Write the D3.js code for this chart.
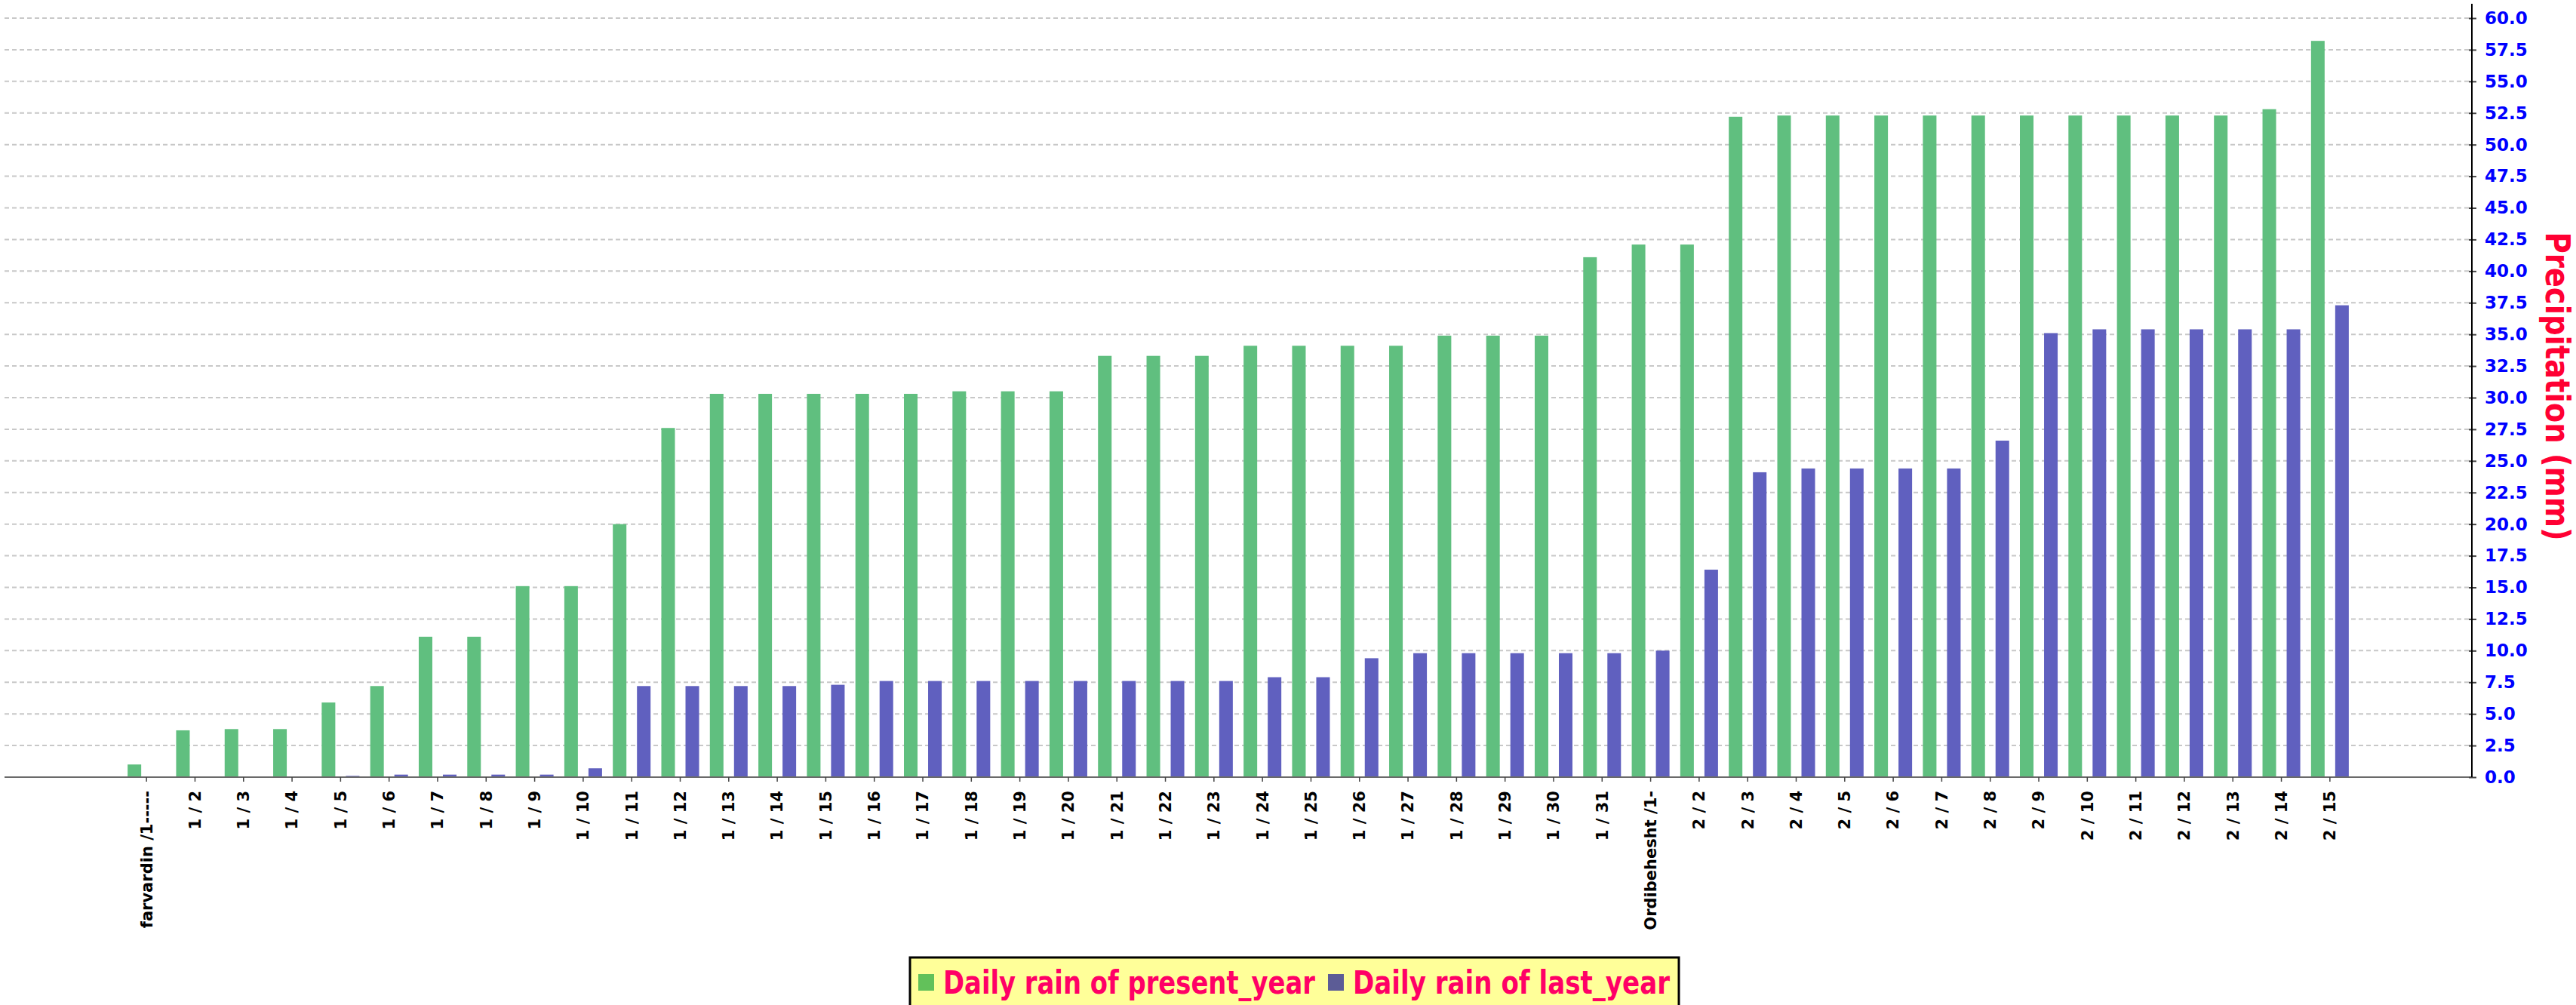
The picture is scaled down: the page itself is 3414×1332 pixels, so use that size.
<!DOCTYPE html>
<html>
<head>
<meta charset="utf-8">
<script src="https://cdn.jsdelivr.net/npm/d3@7"></script>
<style>
  html, body { margin: 0; padding: 0; background: #fff; }
  #chart { width: 3414px; height: 1332px; overflow: hidden; }
</style>
</head>
<body>
<div id="chart"></div>
<script>
// Chart data
const categories = [
    "farvardin /1-----", "1 / 2", "1 / 3", "1 / 4", "1 / 5", "1 / 6", "1 / 7", "1 / 8", "1 / 9", "1 / 10",
    "1 / 11", "1 / 12", "1 / 13", "1 / 14", "1 / 15", "1 / 16", "1 / 17", "1 / 18", "1 / 19", "1 / 20",
    "1 / 21", "1 / 22", "1 / 23", "1 / 24", "1 / 25", "1 / 26", "1 / 27", "1 / 28", "1 / 29", "1 / 30",
    "1 / 31", "Ordibehesht /1-", "2 / 2", "2 / 3", "2 / 4", "2 / 5", "2 / 6", "2 / 7", "2 / 8", "2 / 9",
    "2 / 10", "2 / 11", "2 / 12", "2 / 13", "2 / 14", "2 / 15"
];
const presentYear = [
    1.0, 3.7, 3.8, 3.8, 5.9, 7.2, 11.1, 11.1, 15.1, 15.1,
    20.0, 27.6, 30.3, 30.3, 30.3, 30.3, 30.3, 30.5, 30.5, 30.5,
    33.3, 33.3, 33.3, 34.1, 34.1, 34.1, 34.1, 34.9, 34.9, 34.9,
    41.1, 42.1, 42.1, 52.2, 52.3, 52.3, 52.3, 52.3, 52.3, 52.3,
    52.3, 52.3, 52.3, 52.3, 52.8, 58.2
];
const lastYear = [
    0.05, 0.05, 0.05, 0.05, 0.1, 0.2, 0.2, 0.2, 0.2, 0.7,
    7.2, 7.2, 7.2, 7.2, 7.3, 7.6, 7.6, 7.6, 7.6, 7.6,
    7.6, 7.6, 7.6, 7.9, 7.9, 9.4, 9.8, 9.8, 9.8, 9.8,
    9.8, 10.0, 16.4, 24.1, 24.4, 24.4, 24.4, 24.4, 26.6, 35.1,
    35.4, 35.4, 35.4, 35.4, 35.4, 37.3
];
const seriesNames = ["Daily rain of present_year", "Daily rain of last_year"];
const yTicks = d3.range(0, 60.01, 2.5);

const barColors = ["#60bf7f", "#6060bf"];
const legendColors = ["#62c15a", "#5c5c96"];

// Layout
const W = 3414, H = 1332;
const plot = { left: 6, right: 3276, top: 5, bottom: 1030 };

const svg = d3.select("#chart").append("svg")
    .attr("width", W)
    .attr("height", H)
    .style("font-family", "'DejaVu Sans', sans-serif");

const x = d3.scaleBand()
    .domain(categories)
    .range([162, 3120])
    .paddingInner(0)
    .paddingOuter(0);

const x1 = d3.scaleBand()
    .domain([0, 1])
    .range([0, x.bandwidth()])
    .paddingInner(0.4375)
    .paddingOuter(0.223);

const y = d3.scaleLinear().domain([0, 60]).range([plot.bottom, 24]);

// Grid lines (dashed)
svg.append("g")
    .selectAll("line")
    .data(yTicks)
    .enter().append("line")
    .attr("x1", plot.left)
    .attr("x2", plot.right)
    .attr("y1", d => y(d))
    .attr("y2", d => y(d))
    .attr("stroke", "#c8c8c8")
    .attr("stroke-width", 2)
    .attr("stroke-dasharray", "6,4");

// Bars
const rows = categories.map((c, i) => ({ cat: c, values: [presentYear[i], lastYear[i]] }));
const groups = svg.append("g")
    .selectAll("g")
    .data(rows)
    .enter().append("g")
    .attr("transform", d => `translate(${x(d.cat)},0)`);

groups.selectAll("rect")
    .data(d => d.values.map((v, s) => ({ v, s })))
    .enter().append("rect")
    .attr("x", d => x1(d.s))
    .attr("width", x1.bandwidth())
    .attr("y", d => y(d.v))
    .attr("height", d => y(0) - y(d.v))
    .attr("fill", d => barColors[d.s]);

// X axis
svg.append("line")
    .attr("x1", plot.left)
    .attr("x2", plot.right)
    .attr("y1", plot.bottom)
    .attr("y2", plot.bottom)
    .attr("stroke", "#6a6a6a")
    .attr("stroke-width", 2);

const xAxis = svg.append("g")
    .attr("transform", `translate(0,${plot.bottom})`)
    .call(d3.axisBottom(x).tickSize(6).tickSizeOuter(0));
xAxis.select(".domain").remove();
xAxis.selectAll(".tick line").attr("stroke", "#444").attr("stroke-width", 1.5);
xAxis.selectAll(".tick text")
    .attr("transform", "rotate(-90)")
    .attr("text-anchor", "end")
    .attr("x", -18)
    .attr("y", 0)
    .attr("dy", "0.35em")
    .style("font-family", "'DejaVu Sans', sans-serif")
    .style("font-weight", "bold")
    .style("font-size", "21px")
    .attr("fill", "#000");

// Y axis on the right
const yAxis = svg.append("g")
    .attr("transform", `translate(${plot.right},0)`)
    .call(d3.axisRight(y).tickValues(yTicks).tickFormat(d3.format(".1f")).tickSize(6).tickPadding(11).tickSizeOuter(0));
yAxis.select(".domain").remove();
yAxis.selectAll(".tick line").attr("x1", -4).attr("stroke", "#444").attr("stroke-width", 2);
yAxis.selectAll(".tick text")
    .style("font-family", "'DejaVu Sans', sans-serif")
    .style("font-weight", "bold")
    .style("font-size", "23px")
    .attr("fill", "#0000ff");

svg.append("line")
    .attr("x1", plot.right)
    .attr("x2", plot.right)
    .attr("y1", plot.top)
    .attr("y2", plot.bottom)
    .attr("stroke", "#000")
    .attr("stroke-width", 2);

// Y axis title
svg.append("text")
    .attr("transform", `translate(3374,512) rotate(90)`)
    .attr("text-anchor", "middle")
    .attr("textLength", 409)
    .attr("lengthAdjust", "spacingAndGlyphs")
    .style("font-family", "'DejaVu Sans Condensed', 'DejaVu Sans', sans-serif")
    .style("font-weight", "bold")
    .style("font-size", "44px")
    .attr("fill", "#ff0033")
    .text("Precipitation (mm)");

// Legend
const legend = svg.append("g");
legend.append("rect")
    .attr("x", 1206)
    .attr("y", 1269)
    .attr("width", 1019)
    .attr("height", 90)
    .attr("fill", "#ffff99")
    .attr("stroke", "#000")
    .attr("stroke-width", 3);

const legendItems = [
    { swatch: 1217, text: 1250, len: 493 },
    { swatch: 1760, text: 1793, len: 420 }
];
legendItems.forEach((it, i) => {
    legend.append("rect")
        .attr("x", it.swatch)
        .attr("y", 1291)
        .attr("width", 21)
        .attr("height", 22)
        .attr("fill", legendColors[i]);
    legend.append("text")
        .attr("x", it.text)
        .attr("y", 1317)
        .attr("textLength", it.len)
        .attr("lengthAdjust", "spacingAndGlyphs")
        .style("font-family", "'DejaVu Sans Condensed', 'DejaVu Sans', sans-serif")
        .style("font-weight", "bold")
        .style("font-size", "42px")
        .attr("fill", "#ff0066")
        .text(seriesNames[i]);
});
</script>
</body>
</html>
